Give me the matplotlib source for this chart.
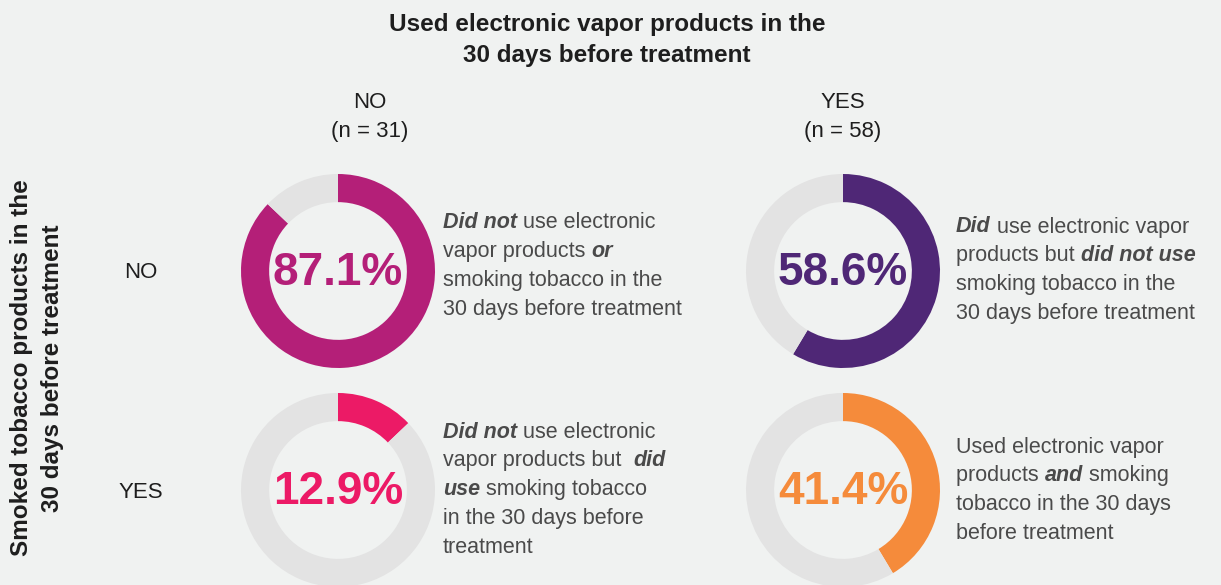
import matplotlib
matplotlib.use('Agg')
import matplotlib.pyplot as plt

plt.rcParams['font.family'] = ['Liberation Sans', 'DejaVu Sans']

W, H = 1221, 585
bg = '#f0f2f1'
ring_bg = '#e3e3e3'
txt_dark = '#1e1e1e'
txt_gray = '#4a4a4a'

# data
shares = [87.1, 58.6, 12.9, 41.4]
share_colors = ['#b41f78', '#4f2776', '#ec1a66', '#f58b3b']
col_labels = ['NO\n(n = 31)', 'YES\n(n = 58)']
row_labels = ['NO', 'YES']
title = 'Used electronic vapor products in the\n30 days before treatment'
side_title = 'Smoked tobacco products in the\n30 days before treatment'

# each note: list of lines, each line a list of (text, emphasised)
notes = [
    [[('Did not', True), (' use electronic', False)],
     [('vapor products ', False), ('or', True)],
     [('smoking tobacco in the', False)],
     [('30 days before treatment', False)]],
    [[('Did', True), (' use electronic vapor', False)],
     [('products but ', False), ('did not use', True)],
     [('smoking tobacco in the', False)],
     [('30 days before treatment', False)]],
    [[('Did not', True), (' use electronic', False)],
     [('vapor products but  ', False), ('did', True)],
     [('use', True), (' smoking tobacco', False)],
     [('in the 30 days before', False)],
     [('treatment', False)]],
    [[('Used electronic vapor', False)],
     [('products ', False), ('and', True), (' smoking', False)],
     [('tobacco in the 30 days', False)],
     [('before treatment', False)]],
]

fig = plt.figure(figsize=(W / 100, H / 100), dpi=100)
fig.patch.set_facecolor(bg)


def fx(px):
    return px / W


def fy(py):
    return 1 - py / H


# donut layout (pixel centres)
centers = [(338, 271), (843, 271), (338, 490), (843, 490)]
R = 97
note_pos = [(443, 223), (956, 227), (443, 432), (956, 447)]
line_step = 28.8

for (cx, cy), v, c in zip(centers, shares, share_colors):
    ax = fig.add_axes([fx(cx - R), fy(cy + R), 2 * R / W, 2 * R / H])
    ax.pie([v, 100 - v], colors=[c, ring_bg], startangle=90, counterclock=False,
           radius=1, wedgeprops=dict(width=0.29, linewidth=0))
    ax.set_xlim(-1, 1)
    ax.set_ylim(-1, 1)
    ax.set_aspect('equal')
    ax.axis('off')
    fig.text(fx(cx), fy(cy + 2), f'{v:.1f}%', ha='center', va='center',
             fontsize=33, fontweight='bold', color=c)

fig.text(fx(607), fy(40), title, ha='center', va='center', fontsize=17.5,
         fontweight='bold', color=txt_dark, linespacing=1.45)
fig.text(fx(37), fy(368), side_title, ha='center', va='center', fontsize=17.5,
         fontweight='bold', color=txt_dark, rotation=90, linespacing=1.4)

for x, lab in zip([370, 843], col_labels):
    fig.text(fx(x), fy(117), lab, ha='center', va='center', fontsize=16,
             color=txt_dark, linespacing=1.5)
for y, lab in zip([272, 492], row_labels):
    fig.text(fx(141), fy(y), lab, ha='center', va='center', fontsize=16,
             color=txt_dark)

# draw notes run by run
renderer = fig.canvas.get_renderer()
for (x0, y0), lines in zip(note_pos, notes):
    for i, runs in enumerate(lines):
        x = x0
        y = y0 + i * line_step
        for s, emph in runs:
            t = fig.text(fx(x), fy(y), s, ha='left', va='center', fontsize=15.5,
                         color=txt_gray,
                         fontweight='bold' if emph else 'normal',
                         fontstyle='italic' if emph else 'normal')
            bb = t.get_window_extent(renderer=renderer)
            x += bb.width

fig.savefig('out.png', dpi=100, facecolor=bg)
